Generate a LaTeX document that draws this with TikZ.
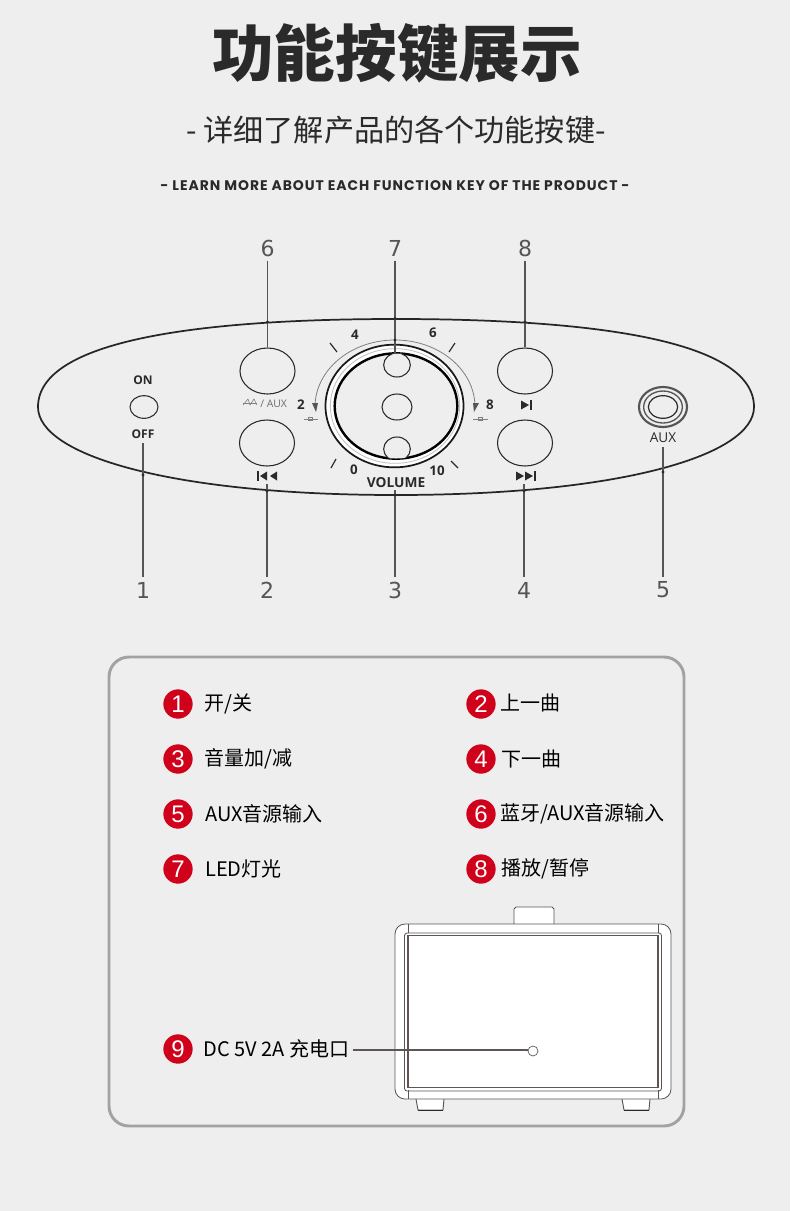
\documentclass[tikz,border=0pt]{standalone}
\usepackage{fontspec}
\usetikzlibrary{shapes.geometric}
\setmainfont{Liberation Sans}
\newfontfamily\cjk{Noto Sans CJK SC}
\newfontfamily\opens{Open Sans}
\newfontfamily\dejav{DejaVu Sans}
\newfontfamily\poppin[LetterSpace=7]{Poppins}
\definecolor{bgc}{HTML}{EEEEEE}
\definecolor{redc}{HTML}{D0021B}
\definecolor{inkc}{HTML}{2A2A2A}
\definecolor{linec}{HTML}{555555}
\definecolor{panelc}{HTML}{A2A2A2}
\definecolor{portc}{HTML}{5F5552}
\definecolor{numc}{HTML}{555555}
\tikzset{
  x=0.75pt,y=-0.75pt,
  btn/.style={draw=inkc,line width=0.8pt,shape=ellipse,inner sep=0pt,minimum width=41.25pt,minimum height=34.5pt},
  smallbtn/.style={draw=inkc,line width=0.8pt,fill=bgc,shape=ellipse,inner sep=0pt,minimum width=20pt,minimum height=18pt},
  leader/.style={draw=linec,line width=0.85pt},
  bignum/.style={text=numc,font=\dejav\fontsize{16.5}{17}\selectfont,inner sep=0pt,outer sep=3.5pt},
  keylab/.style={text=inkc,font=\opens\bfseries\fontsize{9}{9}\selectfont,inner sep=0pt},
  dot/.style={fill=inkc,shape=circle,inner sep=0pt,minimum size=2.6pt},
  tick/.style={draw=inkc,line width=0.9pt},
  badge/.style={fill=redc,shape=circle,inner sep=0pt,minimum size=22pt,text=white,font=\fontsize{18}{18}\selectfont},
  legend/.style={anchor=west,inner sep=0pt,text=black,font=\cjk\fontsize{15}{16}\selectfont},
  sbody/.style={draw=linec,line width=0.6pt,fill=white},
  dialnum/.style={text=inkc,font=\opens\bfseries\fontsize{10}{10}\selectfont,inner sep=0pt},
}
\begin{document}
\begin{tikzpicture}
\path[use as bounding box,fill=bgc] (0,0) rectangle (790,1211);
% headings
\node[inner sep=0pt,text=inkc,font=\cjk\bfseries\fontsize{46.2}{47}\selectfont] (title) at (397,53) {功能按键展示};
\node[inner sep=0pt,text=inkc,font=\cjk\fontsize{22.6}{23}\selectfont] (sub) at (396,130) {- 详细了解产品的各个功能按键-};
\node[inner sep=0pt,text=inkc,font=\poppin\bfseries\fontsize{10.45}{11}\selectfont] (eng) at (395,186) {- LEARN MORE ABOUT EACH FUNCTION KEY OF THE PRODUCT -};
% body outline
\draw[draw=black!85,line width=1.3pt]
  (38,407) .. controls (38,340) and (200,319) .. (396,319)
  .. controls (592,319) and (754,340) .. (754,407)
  .. controls (754,455) and (622,495) .. (396,495)
  .. controls (170,495) and (38,455) .. (38,407) -- cycle;
% numbers
\node[bignum] (n6) at (267.5,248) {6};
\node[bignum] (n7) at (395,248) {7};
\node[bignum] (n8) at (525,248) {8};
\node[bignum] (n1) at (143,590) {1};
\node[bignum] (n2) at (267,590) {2};
\node[bignum] (n3) at (395,590) {3};
\node[bignum] (n4) at (524,590) {4};
\node[bignum] (n5) at (663,590) {5};
% buttons
\node[btn] (b6) at (267.5,371) {};
\node[btn] (b2) at (267,443) {};
\node[btn] (b8) at (525,371) {};
\node[btn] (b4) at (525,443) {};
\node[draw=inkc,line width=0.8pt,shape=ellipse,inner sep=0pt,minimum width=21pt,minimum height=17pt] (onoff) at (144,407) {};
% volume dial
\draw[draw=gray,line width=0.6pt] (395,340) arc[start angle=-90,end angle=-180,x radius=80,y radius=67];
\draw[draw=gray,line width=0.6pt] (395,340) arc[start angle=-90,end angle=0,x radius=80,y radius=67];
\fill[inkc!80] (312,403) -- (318,403) -- (316,412) -- cycle;
\fill[inkc!80] (473,403) -- (479,403) -- (474,412) -- cycle;
\node[draw=black!90,fill=white,line width=1.3pt,shape=ellipse,inner sep=0pt,minimum width=103.5pt,minimum height=92pt] (ring) at (394.5,406) {};
\node[draw=gray!50,line width=0.6pt,shape=ellipse,inner sep=0pt,minimum width=97pt,minimum height=86pt] (ringb) at (395,406) {};
\node[draw=black,fill=bgc,line width=1.8pt,shape=ellipse,inner sep=0pt,minimum width=92pt,minimum height=79pt] (dial) at (396,406) {};
\begin{scope}
\clip (396,406) ellipse [x radius=61,y radius=52.5];
\node[smallbtn] (led) at (397,365) {};
\node[smallbtn] (low) at (397,449) {};
\end{scope}
\node[smallbtn,minimum width=22.5pt,minimum height=19.5pt] (mid) at (397,407) {};
\draw[tick] (330,343) -- (337,352);
\draw[tick] (455,343) -- (449,352);
\draw[tick] (336,459) -- (331,468);
\draw[tick] (451,461) -- (458,468);
\node[dialnum] (v4) at (355,335) {4};
\node[dialnum] (v6) at (433,333) {6};
\node[dialnum] (v2) at (301,405) {2};
\node[dialnum] (v8) at (490,405) {8};
\node[dialnum] (v0) at (354,470) {0};
\node[dialnum] (v10) at (437,471) {10};
\node[keylab,font=\opens\bfseries\fontsize{10.3}{11}\selectfont] (vol) at (396,483) {VOLUME};
\draw[gray,line width=0.6pt] (304,419) -- (318,419);
\draw[gray,line width=0.6pt] (473,419) -- (488,419);
\draw[gray,line width=0.5pt] (308,417.5) rectangle (312,420.5);
\draw[gray,line width=0.5pt] (478,417.5) rectangle (482,420.5);
% labels
\node[keylab] (on) at (143,380) {ON};
\node[keylab] (off) at (143,434) {OFF};
\node[inner sep=0pt,text=inkc,font=\opens\fontsize{10.2}{11}\selectfont] (auxl) at (663,438) {AUX};
\node[inner sep=0pt,text=gray!85!black,font=\opens\fontsize{7.8}{8}\selectfont,anchor=west] (btl) at (260,404) {/ AUX};
\draw[gray,line width=0.45pt] (243,405) -- (248,399) -- (250,405) -- (254,399) -- (257,405);
\draw[gray,line width=0.45pt] (243,403) -- (257,403);
% transport icons
\fill[inkc] (257,471) rectangle (258.6,481);
\fill[inkc] (267,471.5) -- (267,480.5) -- (260,476) -- cycle;
\fill[inkc] (277,471.5) -- (277,480.5) -- (270,476) -- cycle;
\fill[inkc] (521,400.5) -- (521,409.5) -- (529,405) -- cycle;
\fill[inkc] (530,400) rectangle (531.6,410);
\fill[inkc] (516,471.5) -- (516,480.5) -- (524,476) -- cycle;
\fill[inkc] (525,471.5) -- (525,480.5) -- (533,476) -- cycle;
\fill[inkc] (534,471) rectangle (535.6,481);
% AUX jack
\node[draw=linec,line width=1.6pt,shape=ellipse,inner sep=0pt,minimum width=36pt,minimum height=30pt] (jacka) at (663,407) {};
\node[draw=linec,line width=1pt,shape=ellipse,inner sep=0pt,minimum width=29pt,minimum height=24pt] (jackb) at (663,407) {};
\node[draw=inkc,line width=0.9pt,shape=ellipse,inner sep=0pt,minimum width=22pt,minimum height=17pt] (jackc) at (663,407) {};
% leaders
\draw[leader] (n6.south) -- (b6.north);
\draw[leader] (n7.south) -- (395,353);
\draw[leader] (n8.south) -- (b8.north);
\draw[leader] ([yshift=-3pt]off.south) -- (n1.north);
\draw[leader] (267,484) -- (n2.north);
\draw[leader] (395,490) -- (n3.north);
\draw[leader] (524,484) -- (n4.north);
\draw[leader] ([yshift=-3pt]auxl.south) -- (n5.north);
\node[dot] at (267.5,322) {};
\node[dot] at (395,318.5) {};
\node[dot] at (525,322) {};
\node[dot] at (395,340) {};
\node[dot] at (143,475) {};
\node[dot] at (267,491) {};
\node[dot] at (395,495) {};
\node[dot] at (524,491) {};
\node[dot] at (663,472) {};
% panel
\draw[draw=panelc,line width=2.2pt,rounded corners=15pt] (109,657) rectangle (684,1126);
\node[badge] (k1) at (178,704) {1};
\node[badge] (k2) at (481,704) {2};
\node[badge] (k3) at (178,759) {3};
\node[badge] (k4) at (481,759) {4};
\node[badge] (k5) at (178,814) {5};
\node[badge] (k6) at (481,814) {6};
\node[badge] (k7) at (178,869) {7};
\node[badge] (k8) at (481,869) {8};
\node[badge] (k9) at (178,1049) {9};
\node[legend] (t1) at (204,704) {开/关};
\node[legend] (t2) at (500,703) {上一曲};
\node[legend] (t3) at (204,759) {音量加/减};
\node[legend] (t4) at (501,759) {下一曲};
\node[legend] (t5) at (205,814) {AUX音源输入};
\node[legend] (t6) at (500,814) {蓝牙/AUX音源输入};
\node[legend] (t7) at (205,869) {LED灯光};
\node[legend] (t8) at (501,869) {播放/暂停};
\node[legend] (t9) at (203,1049) {DC 5V 2A 充电口};
% speaker
\draw[sbody,line width=0.7pt] (514,924) -- (514,909) -- (516,907) -- (552,907) -- (554,909) -- (554,924);
\draw[sbody,line width=0.7pt] (416,1099) -- (418,1110) -- (443,1110) -- (444,1099);
\draw[sbody,line width=0.7pt] (622,1099) -- (624,1110) -- (649,1110) -- (650,1099);
\draw[draw=inkc,line width=1pt] (418,1110.5) -- (443,1110.5) (624,1110.5) -- (649,1110.5);
\draw[sbody,rounded corners=7.5pt] (395,924) rectangle (671,1099);
\draw[draw=linec,line width=0.6pt] (408,924) -- (408,933) (658,924) -- (658,933) (408,1090) -- (408,1099) (658,1090) -- (658,1099);
\draw[draw=linec,line width=0.6pt,rounded corners=2pt] (404.5,933) rectangle (661.5,1091);
\node[draw=portc,line width=1.3pt,fill=white,shape=rectangle,inner sep=0pt,minimum width=187pt,minimum height=114pt] (screen) at (533,1011.5) {};
\node[draw=linec,line width=0.5pt,shape=circle,inner sep=0pt,minimum size=7.5pt] (port) at (533,1051) {};
\coordinate (lead9) at (353,1050);
\draw[draw=portc,line width=1.1pt] (lead9) -- (lead9 -| port.west);
\end{tikzpicture}
\end{document}
